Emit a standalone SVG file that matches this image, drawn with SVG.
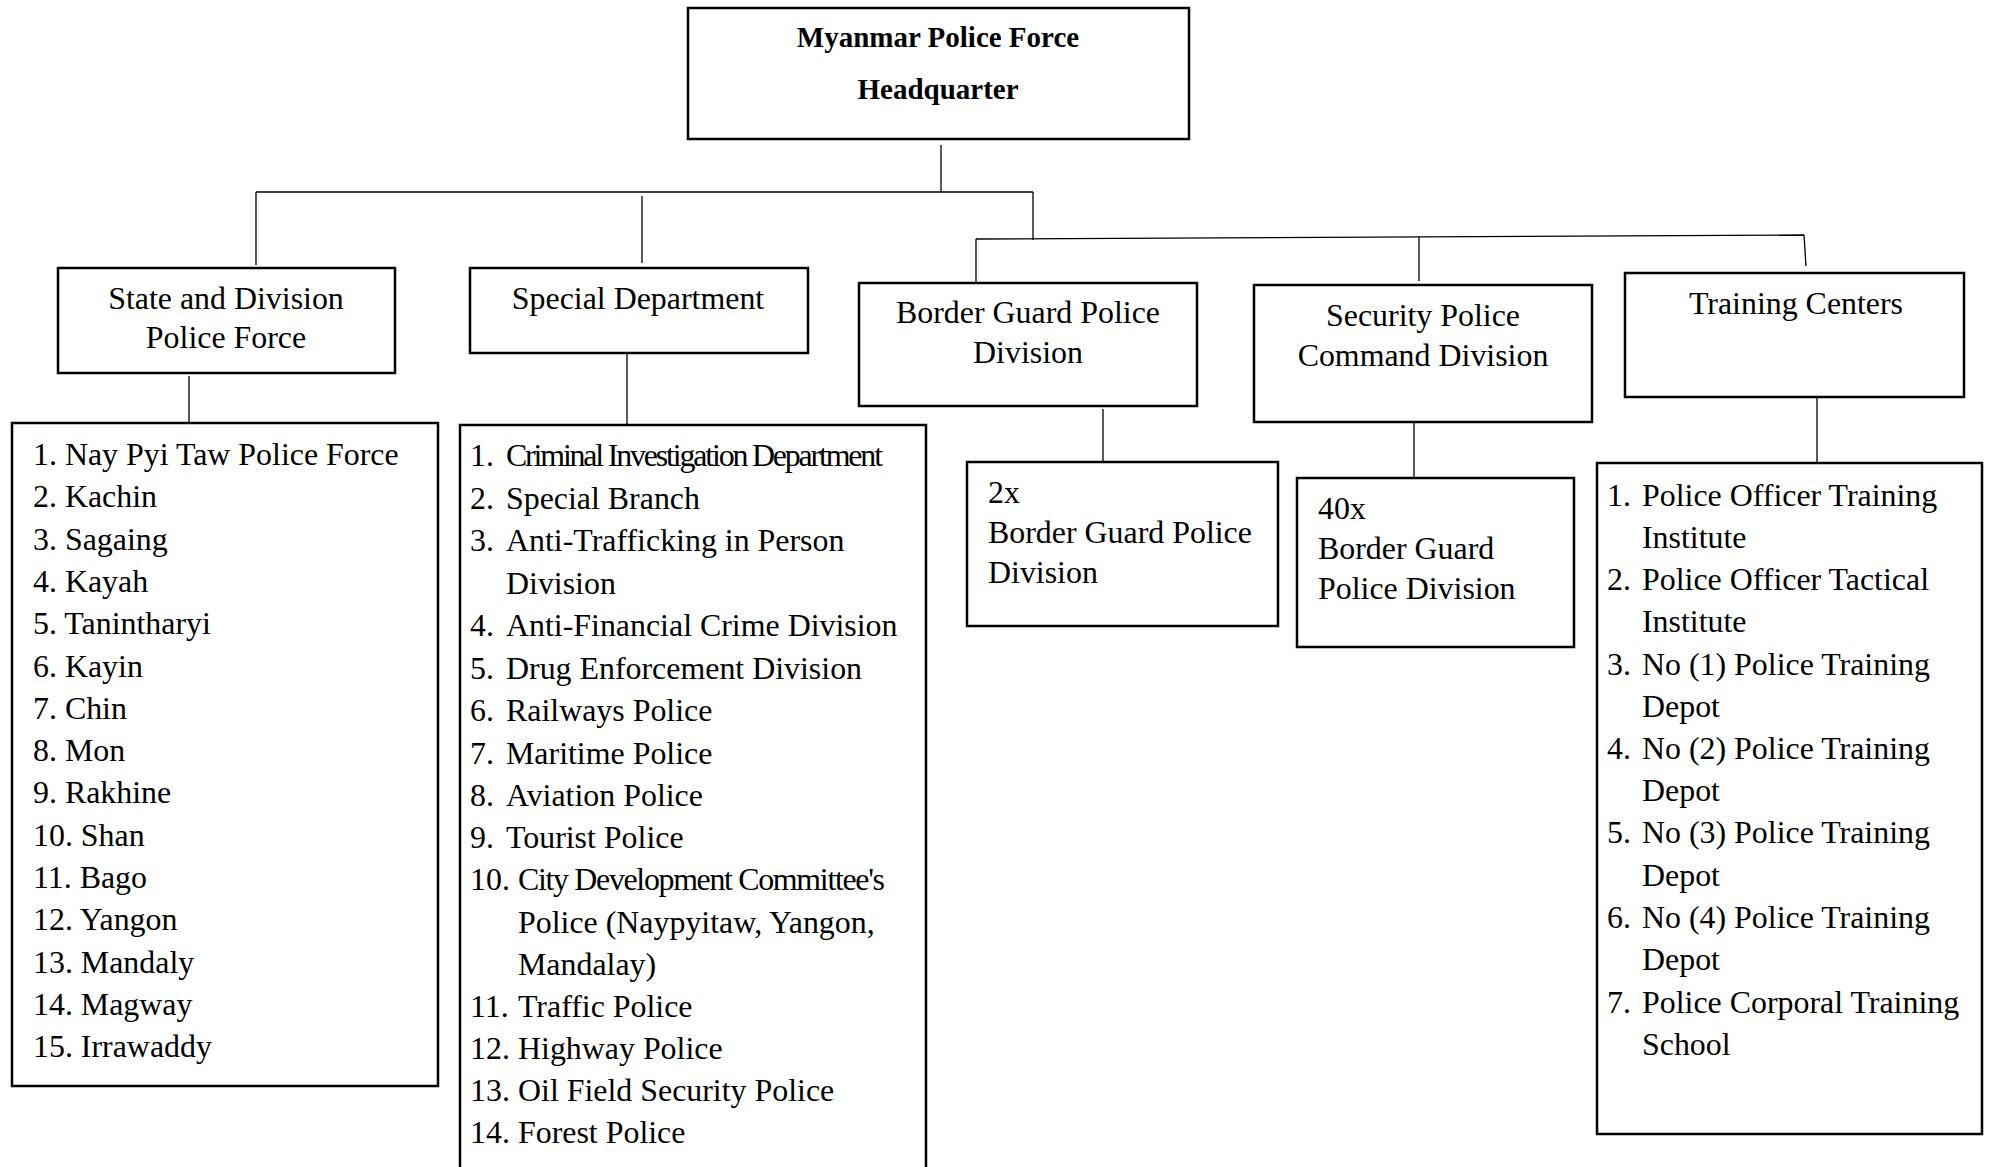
<svg xmlns="http://www.w3.org/2000/svg" width="1990" height="1167" viewBox="0 0 1990 1167">
<style>
.box{fill:#fff;stroke:#000;stroke-width:2.5}
.c{fill:none;stroke:#000;stroke-width:1.3}
text{font-family:"Liberation Serif","Times New Roman",serif;font-size:31.9px;fill:#000;transform:translate(0px,1px)}
.m{text-anchor:middle}
.b{font-weight:bold;font-size:29px}
</style>
<rect x="0" y="0" width="1990" height="1167" fill="#fff"/>
<g id="connectors">
<line class="c" x1="941" y1="145" x2="941" y2="192"/>
<line class="c" x1="256" y1="192" x2="1033" y2="192"/>
<line class="c" x1="256" y1="192" x2="256" y2="265"/>
<line class="c" x1="642" y1="196" x2="642" y2="263"/>
<line class="c" x1="1033" y1="192" x2="1033" y2="240"/>
<line class="c" x1="976" y1="239" x2="1804" y2="235"/>
<line class="c" x1="976" y1="239" x2="976" y2="283"/>
<line class="c" x1="1419" y1="237" x2="1419" y2="281"/>
<line class="c" x1="1804" y1="235" x2="1806" y2="266"/>
<line class="c" x1="189" y1="376" x2="189" y2="423"/>
<line class="c" x1="627" y1="353" x2="627" y2="425"/>
<line class="c" x1="1103" y1="409" x2="1103" y2="462"/>
<line class="c" x1="1414" y1="422" x2="1414" y2="478"/>
<line class="c" x1="1817" y1="397" x2="1817" y2="463"/>
</g>
<g id="hq">
<rect class="box" x="688" y="8" width="501" height="131"/>
<text class="m b" x="938" y="46">Myanmar Police Force</text>
<text class="m b" x="938" y="98">Headquarter</text>
</g>
<g id="state">
<rect class="box" x="58" y="268" width="337" height="105"/>
<text class="m" x="226" y="308">State and Division</text>
<text class="m" x="226" y="347">Police Force</text>
</g>
<g id="special">
<rect class="box" x="470" y="268" width="338" height="85"/>
<text class="m" x="638" y="308">Special Department</text>
</g>
<g id="border">
<rect class="box" x="859" y="283" width="338" height="123"/>
<text class="m" x="1028" y="322">Border Guard Police</text>
<text class="m" x="1028" y="362">Division</text>
</g>
<g id="security">
<rect class="box" x="1254" y="285" width="338" height="137"/>
<text class="m" x="1423" y="325">Security Police</text>
<text class="m" x="1423" y="365">Command Division</text>
</g>
<g id="training">
<rect class="box" x="1625" y="273" width="339" height="124"/>
<text class="m" x="1796" y="313">Training Centers</text>
</g>
<g id="state-list">
<rect class="box" x="12" y="423" width="426" height="663"/>
<text x="33" y="464">1. Nay Pyi Taw Police Force</text>
<text x="33" y="506.3">2. Kachin</text>
<text x="33" y="548.6">3. Sagaing</text>
<text x="33" y="590.9">4. Kayah</text>
<text x="33" y="633.2">5. Tanintharyi</text>
<text x="33" y="675.5">6. Kayin</text>
<text x="33" y="717.8">7. Chin</text>
<text x="33" y="760.1">8. Mon</text>
<text x="33" y="802.4">9. Rakhine</text>
<text x="33" y="844.7">10. Shan</text>
<text x="33" y="887">11. Bago</text>
<text x="33" y="929.3">12. Yangon</text>
<text x="33" y="971.6">13. Mandaly</text>
<text x="33" y="1013.9">14. Magway</text>
<text x="33" y="1056.2">15. Irrawaddy</text>
</g>
<g id="special-list">
<rect class="box" x="460" y="425" width="466" height="770"/>
<text x="470" y="465">1.</text><text x="506" y="465" textLength="377" lengthAdjust="spacing">Criminal Investigation Department</text>
<text x="470" y="507.5">2.</text><text x="506" y="507.5">Special Branch</text>
<text x="470" y="550">3.</text><text x="506" y="550">Anti-Trafficking in Person</text>
<text x="506" y="592.5">Division</text>
<text x="470" y="635">4.</text><text x="506" y="635">Anti-Financial Crime Division</text>
<text x="470" y="677.5">5.</text><text x="506" y="677.5">Drug Enforcement Division</text>
<text x="470" y="720">6.</text><text x="506" y="720">Railways Police</text>
<text x="470" y="762.5">7.</text><text x="506" y="762.5">Maritime Police</text>
<text x="470" y="805">8.</text><text x="506" y="805">Aviation Police</text>
<text x="470" y="847">9.</text><text x="506" y="847">Tourist Police</text>
<text x="470" y="889">10.</text><text x="518" y="889" textLength="367" lengthAdjust="spacing">City Development Committee's</text>
<text x="518" y="931.5">Police (Naypyitaw, Yangon,</text>
<text x="518" y="974">Mandalay)</text>
<text x="470" y="1016">11.</text><text x="518" y="1016">Traffic Police</text>
<text x="470" y="1058">12.</text><text x="518" y="1058">Highway Police</text>
<text x="470" y="1100">13.</text><text x="518" y="1100">Oil Field Security Police</text>
<text x="470" y="1142">14.</text><text x="518" y="1142">Forest Police</text>
</g>
<g id="border-sub">
<rect class="box" x="967" y="462" width="311" height="164"/>
<text x="988" y="502">2x</text>
<text x="988" y="542">Border Guard Police</text>
<text x="988" y="582">Division</text>
</g>
<g id="security-sub">
<rect class="box" x="1297" y="478" width="277" height="169"/>
<text x="1318" y="518">40x</text>
<text x="1318" y="558">Border Guard</text>
<text x="1318" y="598">Police Division</text>
</g>
<g id="training-list">
<rect class="box" x="1597" y="463" width="385" height="671"/>
<text x="1607" y="505">1.</text><text x="1642" y="505">Police Officer Training</text>
<text x="1642" y="547">Institute</text>
<text x="1607" y="589">2.</text><text x="1642" y="589">Police Officer Tactical</text>
<text x="1642" y="631">Institute</text>
<text x="1607" y="673.5">3.</text><text x="1642" y="673.5">No (1) Police Training</text>
<text x="1642" y="715.5">Depot</text>
<text x="1607" y="758">4.</text><text x="1642" y="758">No (2) Police Training</text>
<text x="1642" y="800">Depot</text>
<text x="1607" y="842">5.</text><text x="1642" y="842">No (3) Police Training</text>
<text x="1642" y="884.5">Depot</text>
<text x="1607" y="927">6.</text><text x="1642" y="927">No (4) Police Training</text>
<text x="1642" y="969">Depot</text>
<text x="1607" y="1011.5">7.</text><text x="1642" y="1011.5">Police Corporal Training</text>
<text x="1642" y="1053.5">School</text>
</g>
</svg>
